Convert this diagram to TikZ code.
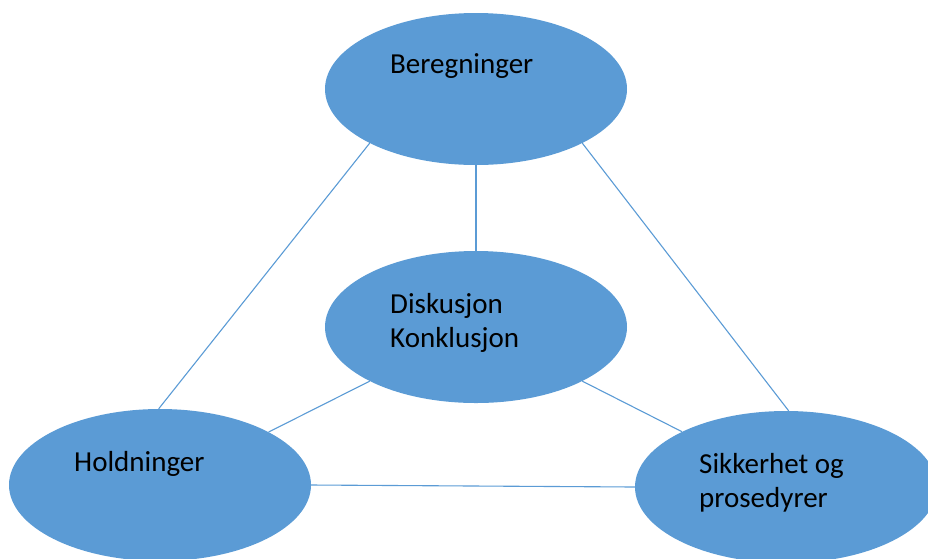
\documentclass[tikz,border=0pt]{standalone}
\usepackage{fontspec}
\setmainfont{Carlito}
\usetikzlibrary{shapes.geometric}
\definecolor{officeblue}{HTML}{5B9BD5}
\begin{document}
\begin{tikzpicture}[x=1pt,y=-1pt,
  bubble/.style={ellipse, fill=officeblue, draw=none, inner sep=0pt,
    minimum width=302pt, minimum height=152pt},
  link/.style={draw=officeblue, line width=1.1pt},
  label/.style={anchor=base west, inner sep=0pt, text=black,
    font=\fontsize{29}{34}\selectfont}]
  \useasboundingbox (0,0) rectangle (928,558);
  \clip (0,0) rectangle (928,558);

  % the four topics
  \node[bubble] (ber) at (476,89) {};
  \node[bubble] (dis) at (476,327) {};
  \node[bubble] (hol) at (160,485) {};
  \node[bubble] (sik) at (786,487) {};

  % connections between the topics
  \draw[link] (ber.207) -- (hol.91);
  \draw[link] (ber.333) -- (sik.88.5);
  \draw[link] (ber.south) -- (dis.north);
  \draw[link] (dis.207.4) -- (hol.26.3);
  \draw[link] (dis.333) -- (sik.152.6);
  \draw[link] (hol.east) -- (sik.west);

  % topic labels
  \node[label] (tber) at (390,73) {Beregninger};
  \node[label] (tdis) at (390,313) {\vtop{\hbox{Diskusjon}\hbox{Konklusjon}}};
  \node[label] (thol) at (74,471) {Holdninger};
  \node[label] (tsik) at (699,473) {\vtop{\hbox{Sikkerhet og}\hbox{prosedyrer}}};
\end{tikzpicture}
\end{document}
